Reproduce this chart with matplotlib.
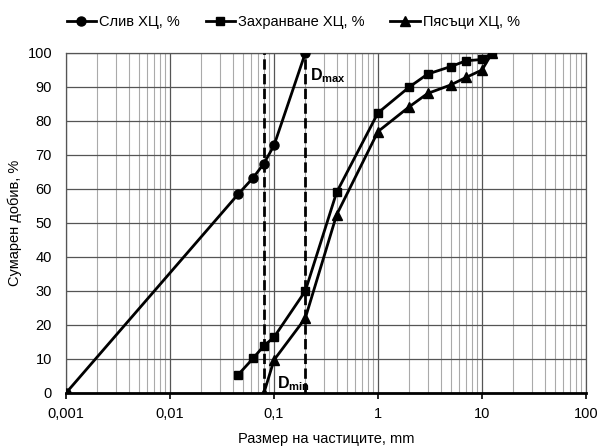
import matplotlib
matplotlib.use("Agg")
import matplotlib.pyplot as plt
import numpy as np

plt.rcParams['font.family'] = ['Liberation Sans Narrow', 'Liberation Sans', 'DejaVu Sans']

# sieve sizes, mm and cumulative yield, %
sliv_x = [0.001, 0.045, 0.063, 0.08, 0.1, 0.2]
sliv_y = [0, 58.4, 63.3, 67.5, 72.8, 100]

zahr_x = [0.045, 0.063, 0.08, 0.1, 0.2, 0.4, 1, 2, 3, 5, 7, 10, 12.5]
zahr_y = [5.3, 10.2, 13.9, 16.4, 30, 59, 82.4, 90, 93.8, 96, 97.7, 98.1, 100]

pyas_x = [0.08, 0.1, 0.2, 0.4, 1, 2, 3, 5, 7, 10, 12.5]
pyas_y = [0, 9.7, 22, 52.4, 76.9, 84.2, 88.1, 90.6, 92.8, 95, 100]

d_min = 0.08
d_max = 0.2

xticks = [0.001, 0.01, 0.1, 1, 10, 100]
xtick_labels = ['0,001', '0,01', '0,1', '1', '10', '100']

fs = 10.5

fig = plt.figure(figsize=(5.98, 4.46), dpi=100)
ax = fig.add_axes([66/598, 1-393/446, 520/598, 340/446])

ax.plot(sliv_x, sliv_y, '-o', color='black', lw=2, ms=6.5, label='Слив ХЦ, %', zorder=5)
ax.plot(zahr_x, zahr_y, '-s', color='black', lw=2, ms=6, label='Захранване ХЦ, %', zorder=5)
ax.plot(pyas_x, pyas_y, '-^', color='black', lw=2, ms=6.5, label='Пясъци ХЦ, %', zorder=5)

# D_min / D_max markers
ax.plot([d_min, d_min], [0, 100], '--', color='black', lw=2, zorder=4)
ax.plot([d_max, d_max], [0, 100], '--', color='black', lw=2, zorder=4)
ax.text(d_max * 1.1, 92, 'D$_{\\mathregular{max}}$', fontsize=11.5, fontweight='bold')
ax.text(d_min * 1.33, 1.5, 'D$_{\\mathregular{min}}$', fontsize=11.5, fontweight='bold')

ax.set_xscale('log')
ax.set_xlim(0.001, 100)
ax.set_ylim(0, 100)
ax.set_yticks(np.arange(0, 101, 10))
ax.set_xticks(xticks)
ax.set_xticklabels(xtick_labels)
ax.grid(which='major', axis='both', color='#555555', lw=0.9)
ax.grid(which='minor', axis='x', color='#aaaaaa', lw=0.8)
ax.tick_params(axis='y', length=0, labelsize=fs, pad=10)
ax.tick_params(axis='x', which='major', length=4, width=1.2, labelsize=fs, direction='out', pad=6)
ax.tick_params(axis='x', which='minor', length=0)
for s in ['top', 'right', 'left']:
    ax.spines[s].set_color('#555555')
    ax.spines[s].set_linewidth(0.9)
ax.spines['bottom'].set_linewidth(2)

ax.set_xlabel('Размер на частиците, mm', fontsize=fs, labelpad=8)
ax.set_ylabel('Сумарен добив, %', fontsize=fs, labelpad=4)

fig.legend(loc='upper center', bbox_to_anchor=(0.49, 0.995), ncol=3, frameon=False,
           fontsize=fs, handlelength=2.0, handletextpad=0.2, columnspacing=1.8)

fig.savefig('out.png', dpi=100)
